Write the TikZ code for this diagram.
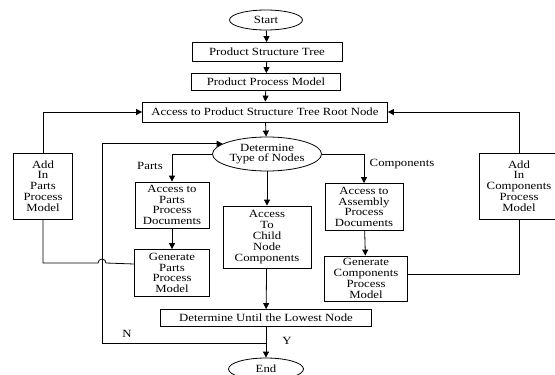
\documentclass[tikz,border=0pt]{standalone}
\usepackage{fontspec}
\setmainfont{Liberation Serif}[FakeStretch=1.16]
\usetikzlibrary{shapes.geometric,arrows.meta}
\begin{document}
\begin{tikzpicture}[x=1pt, y=-1pt,
    every node/.style={font=\fontsize{11}{10.8}\selectfont, inner sep=0pt},
    stepbox/.style={rectangle, draw, line width=0.8pt, align=center},
    termnode/.style={ellipse, draw, line width=0.8pt, align=center},
    link/.style={line width=0.8pt},
    arr/.style={link, -{Triangle[length=6pt, width=6pt]}}]
  \useasboundingbox (0,0) rectangle (555,375);
  % main column
  \node[termnode, minimum width=73, minimum height=20] (start) at (266,20) {Start};
  \node[stepbox, minimum width=150, minimum height=19] (pst) at (267,52) {Product Structure Tree};
  \node[stepbox, minimum width=149, minimum height=17] (ppm) at (266,82) {Product Process Model};
  \node[stepbox, minimum width=245, minimum height=20] (root) at (265,112) {Access to Product Structure Tree Root Node};
  \node[termnode, minimum width=109, minimum height=34] (type) at (267,154) {Determine\\Type of Nodes};
  \node[stepbox, minimum width=88, minimum height=62] (child) at (267,237) {Access\\To\\Child\\Node\\Components};
  \node[stepbox, minimum width=211, minimum height=17] (lowest) at (266,318) {Determine Until the Lowest Node};
  \node[termnode, minimum width=75, minimum height=22] (end) at (266,369) {End};
  % parts branch
  \node[stepbox, minimum width=74, minimum height=46] (partsdoc) at (172,205) {Access to\\Parts\\Process\\Documents};
  \node[stepbox, minimum width=75, minimum height=47] (partsgen) at (172,273) {Generate\\Parts\\Process\\Model};
  \node[stepbox, minimum width=59, minimum height=66] (partsadd) at (43,186) {Add\\In\\Parts\\Process\\Model};
  % components branch
  \node[stepbox, minimum width=78, minimum height=47] (compdoc) at (364,207) {Access to\\Assembly\\Process\\Documents};
  \node[stepbox, minimum width=83, minimum height=45] (compgen) at (366,278.5) {Generate\\Components\\Process\\Model};
  \node[stepbox, minimum width=80, minimum height=66] (compadd) at (519,186) {Add\\In\\Components\\Process\\Model};
  % labels
  \node (partslbl) at (150,166) {Parts};
  \node (complbl) at (402,164) {Components};
  \node (nlbl) at (127,334) {N};
  \node (ylbl) at (287,341) {Y};
  \coordinate (loopcorner) at (102,343);
  % connectors
  \draw[arr] (start) -- (pst);
  \draw[arr] (pst) -- (ppm);
  \draw[arr] (ppm) -- (root);
  \draw[arr] (root) -- (type);
  \draw[arr] (type.west) -| (partsdoc.north);
  \draw[arr] (type.east) -| (compdoc.north);
  \draw[arr] (type) -- (child);
  \draw[arr] (child) -- (lowest);
  \draw[arr] (partsdoc) -- (partsgen);
  \draw[arr] (compdoc) -- (compgen);
  \draw[arr] (lowest) -- (end);
  \draw[arr] (lowest.south) |- (loopcorner) |- (type.167);
  \draw[link] ([yshift=9pt]partsgen.west) -- (106,263) arc (0:-180:4) -| (partsadd.south);
  \draw[arr] (partsadd.north) |- (root.west);
  \draw[link] ([yshift=4pt]compgen.east) -| (compadd.south);
  \draw[arr] (compadd.north) |- (root.east);
\end{tikzpicture}
\end{document}
